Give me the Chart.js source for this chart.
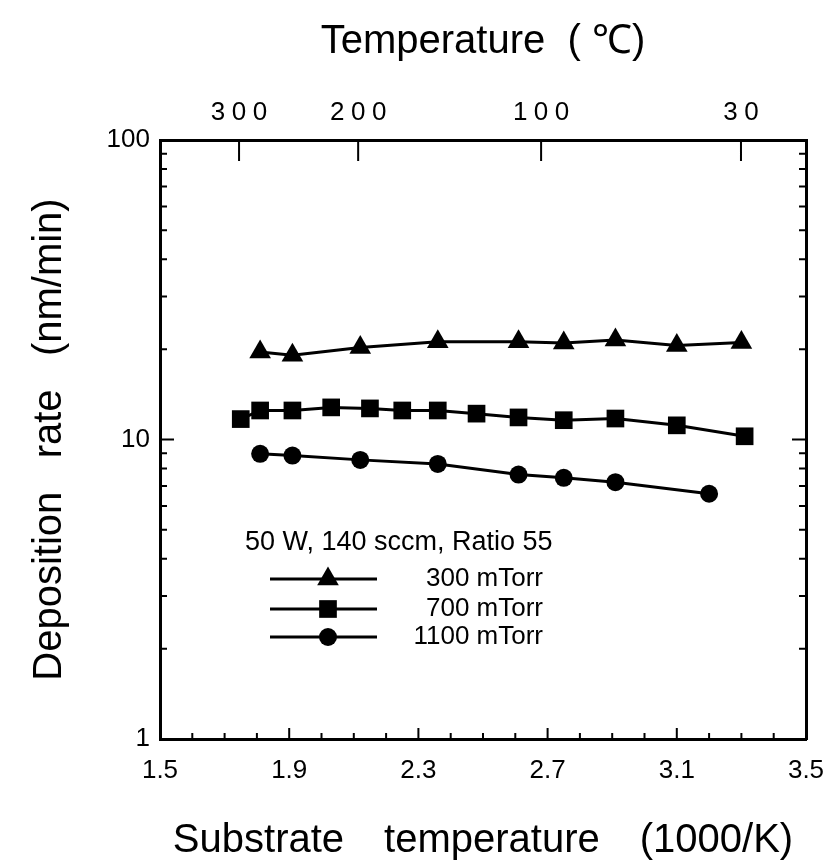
<!DOCTYPE html>
<html>
<head>
<meta charset="utf-8">
<script src="https://cdn.jsdelivr.net/npm/chart.js@4"></script>
<style>
  html, body { margin: 0; padding: 0; background: #fff; }
  #wrap { width: 835px; height: 865px; }
</style>
</head>
<body>
<div id="wrap"><canvas id="chart" width="835" height="865"></canvas></div>
<script>
// data
const xs300   = [1.81, 1.91, 2.12, 2.36, 2.61, 2.75, 2.91, 3.10, 3.30];
const rate300 = [19.6, 19.1, 20.3, 21.2, 21.2, 21.0, 21.5, 20.6, 21.1];

const xs700   = [1.75, 1.81, 1.91, 2.03, 2.15, 2.25, 2.36, 2.48, 2.61, 2.75, 2.91, 3.10, 3.31];
const rate700 = [11.7, 12.5, 12.5, 12.8, 12.7, 12.5, 12.5, 12.2, 11.85, 11.6, 11.75, 11.15, 10.25];

const xs1100   = [1.81, 1.91, 2.12, 2.36, 2.61, 2.75, 2.91, 3.20];
const rate1100 = [8.96, 8.84, 8.55, 8.29, 7.64, 7.45, 7.2, 6.59];

const xTicks = [1.5, 1.9, 2.3, 2.7, 3.1, 3.5];
const yTicks = [1, 10, 100];
const topTemps = [300, 200, 100, 30];   // deg C on the upper axis

const noteText = '50 W, 140 sccm, Ratio 55';
const seriesNames = ['300 mTorr', '700 mTorr', '1100 mTorr'];
const seriesStyles = ['triangle', 'rect', 'circle'];

const toPts = (xs, ys) => xs.map((x, i) => ({ x, y: ys[i] }));
const invK = t => 1000 / (t + 273.15);

Chart.defaults.font.family = '"Liberation Sans", Arial, sans-serif';
Chart.defaults.color = '#000';

const ptRadius = { triangle: 12.5, rect: 12.5, circle: 9 };

function makeSet(label, pts, style) {
  return {
    label, data: pts,
    borderColor: '#000', borderWidth: 3,
    pointStyle: style, pointRadius: ptRadius[style],
    pointBackgroundColor: '#000', pointBorderColor: '#000', pointBorderWidth: 0,
    tension: 0, fill: false
  };
}

// inward ticks and the legend drawn inside the plot
const framePlugin = {
  id: 'frame',
  afterDraw(chart) {
    const { ctx, chartArea: a, scales } = chart;
    const x = scales.x, y = scales.y;
    ctx.save();
    ctx.strokeStyle = '#000';
    ctx.lineWidth = 2;
    ctx.beginPath();
    // left / right log ticks
    for (let d = 1; d < 100; d *= 10) {
      for (let m = 1; m <= 10; m++) {
        const py = y.getPixelForValue(d * m);
        const len = (m === 1 || m === 10) ? 14 : 7;
        ctx.moveTo(a.left, py); ctx.lineTo(a.left + len, py);
        ctx.moveTo(a.right, py); ctx.lineTo(a.right - len, py);
      }
    }
    // bottom ticks every 0.1
    for (let i = 0; i <= 20; i++) {
      const px = x.getPixelForValue(1.5 + i * 0.1);
      const len = (i % 4 === 0) ? 11 : 6;
      ctx.moveTo(px, a.bottom); ctx.lineTo(px, a.bottom - len);
    }
    // top temperature ticks
    topTemps.forEach(t => {
      const px = x.getPixelForValue(invK(t));
      ctx.moveTo(px, a.top); ctx.lineTo(px, a.top + 21);
    });
    ctx.stroke();

    // legend
    ctx.fillStyle = '#000';
    ctx.textBaseline = 'middle';
    ctx.textAlign = 'left';
    ctx.font = '27px "Liberation Sans", Arial, sans-serif';
    ctx.fillText(noteText, 245, 543);
    ctx.font = '26px "Liberation Sans", Arial, sans-serif';
    const rows = [579, 609, 637];
    rows.forEach((ry, i) => {
      ctx.lineWidth = 3;
      ctx.beginPath();
      ctx.moveTo(270, ry); ctx.lineTo(377, ry);
      ctx.stroke();
      Chart.helpers.drawPoint(ctx, {
        pointStyle: seriesStyles[i], radius: ptRadius[seriesStyles[i]],
        rotation: 0, borderWidth: 0
      }, 328, ry);
      ctx.textAlign = 'right';
      ctx.fillText(seriesNames[i], 543, ry);
    });
    ctx.restore();
  }
};

const spaced = s => s.split('').join('\u2005');
const gap = '   \u2006';
const frame = { display: true, color: '#000', width: 3 };

new Chart(document.getElementById('chart'), {
  type: 'line',
  data: {
    datasets: [
      makeSet(seriesNames[0], toPts(xs300, rate300), 'triangle'),
      makeSet(seriesNames[1], toPts(xs700, rate700), 'rect'),
      makeSet(seriesNames[2], toPts(xs1100, rate1100), 'circle')
    ]
  },
  options: {
    responsive: false,
    animation: false,
    layout: { padding: { left: 0, right: 29, top: 0, bottom: 0 } },
    plugins: { legend: { display: false }, tooltip: { enabled: false } },
    scales: {
      x: {
        type: 'linear', position: 'bottom', min: 1.5, max: 3.5,
        afterBuildTicks: s => { s.ticks = xTicks.map(v => ({ value: v })); },
        afterFit: s => { s.height = 126; s.paddingLeft = 0; s.paddingRight = 0; },
        grid: { display: false, drawTicks: false },
        border: frame,
        ticks: {
          padding: 16, font: { size: 26 }, maxRotation: 0, autoSkip: false,
          callback: v => v.toFixed(1)
        },
        title: {
          display: true, text: 'Substrate' + gap + 'temperature' + gap + '(1000/K)',
          font: { size: 40 }, padding: { top: 16, bottom: 0 }
        }
      },
      xTop: {
        type: 'linear', position: 'top', min: 1.5, max: 3.5,
        afterBuildTicks: s => { s.ticks = topTemps.map(t => ({ value: invK(t) })); },
        afterFit: s => { s.height = 140; s.paddingLeft = 0; s.paddingRight = 0; },
        grid: { display: false, drawTicks: false },
        border: frame,
        ticks: {
          padding: 12, font: { size: 26 }, maxRotation: 0, autoSkip: false,
          callback: (v, i) => spaced(String(topTemps[i]))
        },
        title: {
          display: true, text: 'Temperature  ( \u2103)',
          font: { size: 40 }, padding: { top: 18, bottom: 0 }
        }
      },
      y: {
        type: 'logarithmic', position: 'left', min: 1, max: 100,
        afterBuildTicks: s => { s.ticks = yTicks.map(v => ({ value: v })); },
        afterFit: s => { s.width = 160; },
        grid: { display: false, drawTicks: false },
        border: frame,
        ticks: { padding: 10, font: { size: 26 }, callback: v => String(v) },
        title: {
          display: true, text: 'Deposition   rate   (nm/min)',
          font: { size: 40 }, padding: { top: 26, bottom: 0 }
        }
      },
      yRight: {
        type: 'logarithmic', position: 'right', min: 1, max: 100,
        afterFit: s => { s.width = 0; },
        grid: { display: false, drawTicks: false },
        border: frame,
        ticks: { display: false }
      }
    }
  },
  plugins: [framePlugin]
});
</script>
</body>
</html>
